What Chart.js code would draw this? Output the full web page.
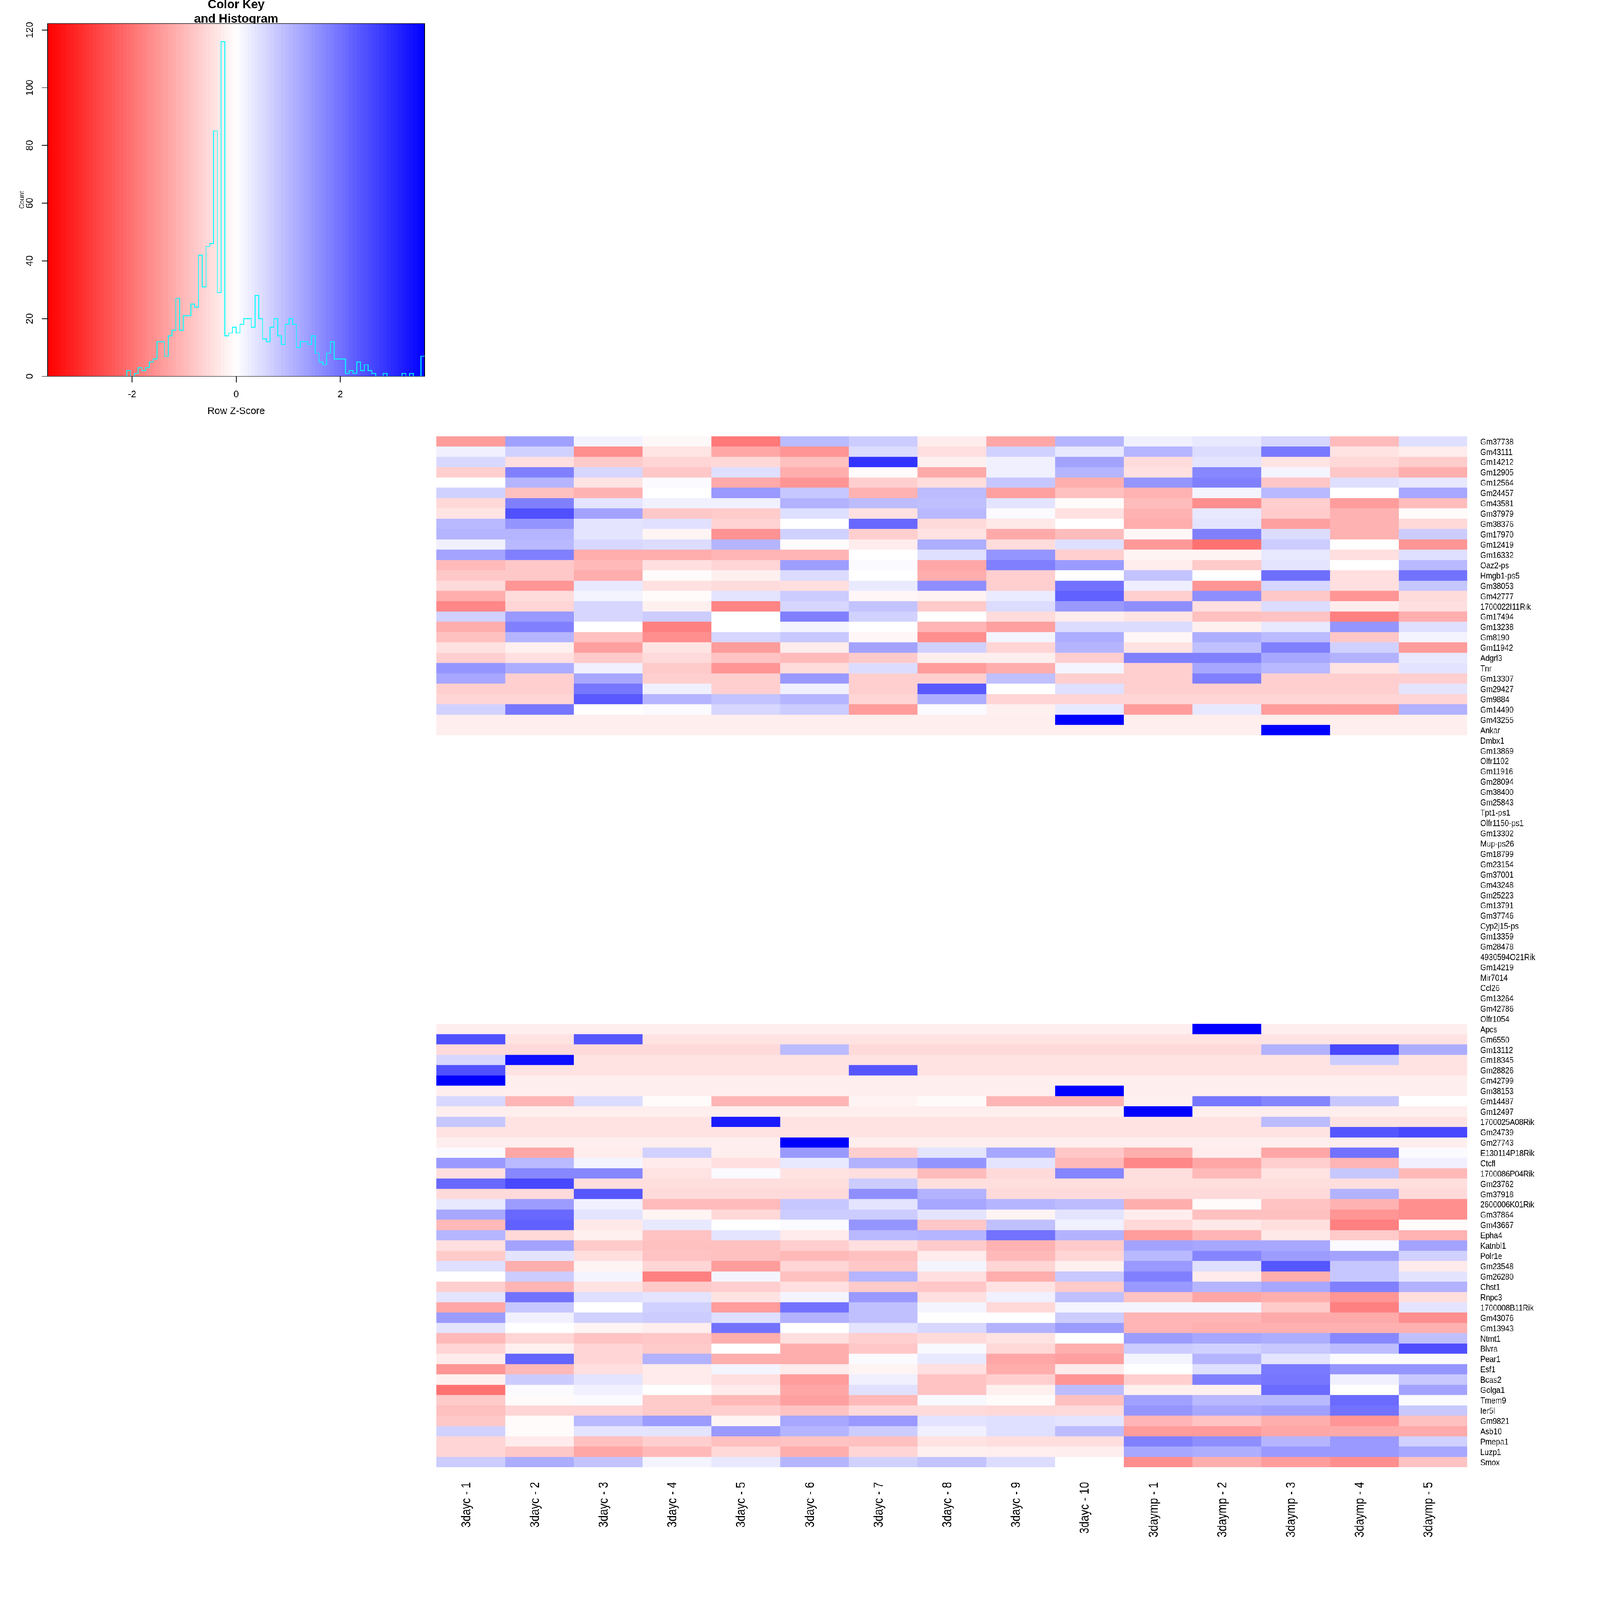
<!DOCTYPE html>
<html>
<head>
<meta charset="utf-8">
<title>Color Key and Histogram</title>
<script src="https://cdn.jsdelivr.net/npm/chart.js@4/dist/chart.umd.js"></script>
<style>
html,body{margin:0;padding:0;background:#fff;overflow:hidden}
#page{position:absolute;left:0;top:0;width:4800px;height:4800px;overflow:hidden;transform-origin:0 0}
canvas{position:absolute;left:0;top:0}
</style>
</head>
<body>
<div id="page">
<canvas id="heat" width="4800" height="4800"></canvas>
<canvas id="key" width="1320" height="1260"></canvas>
</div>
<script>
const columns = ['3dayc - 1','3dayc - 2','3dayc - 3','3dayc - 4','3dayc - 5','3dayc - 6','3dayc - 7','3dayc - 8','3dayc - 9','3dayc - 10','3daymp - 1','3daymp - 2','3daymp - 3','3daymp - 4','3daymp - 5'];

const genes = ['Gm37738','Gm43111','Gm14212','Gm12905','Gm12564','Gm24457','Gm43581','Gm37979','Gm38376','Gm17970','Gm12419','Gm16332','Oaz2-ps','Hmgb1-ps5','Gm38053','Gm42777','1700022I11Rik','Gm17494','Gm13238','Gm8190','Gm11942','Adgrl3','Tnr','Gm13307','Gm29427','Gm9884','Gm14490','Gm43255','Ankar',
	'Dmbx1','Gm13869','Olfr1102','Gm11916','Gm28094','Gm38400','Gm25843','Tpt1-ps1','Olfr1150-ps1','Gm13302','Mup-ps26','Gm18799','Gm23154','Gm37001','Gm43248','Gm25223','Gm13791','Gm37746','Cyp2j15-ps','Gm13359','Gm28478','4930594O21Rik','Gm14219','Mir7014','Ccl26','Gm13264','Gm42786','Olfr1054',
	'Apcs','Gm6550','Gm13112','Gm18345','Gm28826','Gm42799','Gm38153','Gm14487','Gm12497','1700025A08Rik','Gm24739','Gm27743','E130114P18Rik','Ctcfl','1700086P04Rik','Gm23762','Gm37918','2600006K01Rik','Gm37864','Gm43667','Epha4','Katnbl1','Polr1e','Gm23548','Gm26280','Chst1','Rnpc3','1700008B11Rik','Gm43076','Gm13943','Ntmt1','Blvra','Pear1','Esf1','Bcas2','Golga1','Tmem9','Ier5l','Gm9821','Asb10','Pmepa1','Luzp1','Smox'];

// row z-scores, Gm37738 down to Ankar
const zTop = [
	[-1.4,1.35,.17,-.1,-1.9,.97,.72,-.27,-1.25,1.05,.22,.33,.58,-.97,.45],
	[.22,.66,-1.6,-.38,-1.25,-1.5,.5,-.45,.66,.33,1.05,.5,1.9,-.4,-.25],
	[.55,-.45,-.75,-.6,-.55,-.9,2.9,-.22,.22,1.3,-.5,.38,-.38,-.55,-.72],
	[-.7,1.8,.58,-.8,.45,-1.15,-.06,-1.2,.22,1.05,-.42,1.7,.15,-.8,-1.15],
	[0,1.05,-.38,.07,-1.2,-1.5,-.68,-.48,.8,-1.15,1.5,1.8,-.8,.45,.33],
	[.66,-.9,-1.1,0,1.45,.8,-1.1,.95,-1.35,-.9,-1.1,.15,1,0,1.25],
	[-.55,1.8,.38,.22,.22,1.1,.95,.9,.38,-.05,-.95,-1.6,-.7,-1.4,-.95],
	[-.38,2.48,1.3,-.78,-.74,.45,-.42,1,.07,-.42,-1.1,.33,-.74,-1.1,-.06],
	[1,1.5,.38,.42,-.63,0,2.15,-.53,-.33,0,-1.17,.38,-1.35,-1.1,-.55],
	[1.05,1.05,.38,-.15,-1.55,.66,-.68,-.4,-1.2,-.95,-.12,1.8,.5,-1.1,.72],
	[.22,1,.55,.5,1.05,-.05,-.27,1.15,-.5,.45,-1.45,-2,.72,0,-1.5],
	[1.3,1.8,-1.17,-1.17,-1.05,-1.05,0,.45,1.5,-.68,-.15,-.15,.33,-.45,.45],
	[-1,-.78,-1,-.45,-.6,1.38,.07,-1.25,1.8,1.42,-.27,-.75,.38,0,1],
	[-.78,-.78,-1.17,-.06,-.22,.5,0,-1.17,-.7,0,.85,0,2.05,-.45,2],
	[-.53,-1.5,.33,-.42,-.5,-.45,.3,1.6,-.7,2,.24,-1.5,.58,-.45,.8],
	[-1.17,-.5,.15,-.06,.38,.72,-.12,-.18,.28,2.25,-.7,1.6,-.78,-1.5,-.5],
	[-1.7,-.6,.58,-.22,-1.75,.58,.85,-.75,.5,1.45,1.6,-.45,.5,-.25,-.45],
	[.66,1.45,.58,.72,0,1.8,.66,0,-.5,-.25,-.38,-.9,-.85,-1.8,-1.15],
	[-1.15,1.8,0,-1.8,0,.15,0,-1.05,-1.35,.5,.5,-.22,.33,1.5,.45],
	[-.9,1.05,-.9,-1.6,.58,.78,-.12,-1.6,.15,1.17,-.12,1.15,.97,-.8,.15],
	[-.42,-.22,-1.35,-.38,-1.4,-.27,1.3,.66,-.6,1.05,-.4,.9,1.8,.66,-1.4],
	[-.68,-.45,-.75,-.53,-.85,-.97,-.75,-.24,-.24,-.7,1.8,1.8,1.25,1.1,.33],
	[1.5,1.17,.22,-.75,-1.5,-.5,.5,-1.4,-1.15,.15,-.7,1.25,1,-.4,.4],
	[1.25,-.68,1.25,-.68,-.68,1.45,-.68,-.68,.9,-.68,-.68,1.8,-.68,-.68,-.68],
	[-.68,-.68,1.95,.22,-.68,.22,-.68,2.35,0,.45,-.68,-.68,-.68,-.68,.38],
	[-.6,-.6,2.35,1.05,.85,1.05,-.6,1.15,-.6,-.6,-.6,-.6,-.6,-.6,-.6],
	[.66,1.95,0,.07,.58,.72,-1.4,.07,-.22,.33,-1.4,.33,-1.4,-1.4,1.1],
	[-.24,-.24,-.24,-.24,-.24,-.24,-.24,-.24,-.24,3.62,-.24,-.24,-.24,-.24,-.24],
	[-.24,-.24,-.24,-.24,-.24,-.24,-.24,-.24,-.24,-.24,-.24,-.24,3.62,-.24,-.24]
];

// Dmbx1 to Olfr1054 have no values at all (zero variance, NA z-score)
const emptyRows = 28;

// Apcs down to Smox
const zBottom = [
	[-.24,-.24,-.24,-.24,-.24,-.24,-.24,-.24,-.24,-.24,-.24,3.62,-.24,-.24,-.24],
	[2.48,-.4,2.4,-.4,-.4,-.4,-.4,-.4,-.4,-.4,-.4,-.4,-.4,-.4,-.4],
	[-.53,-.53,-.53,-.53,-.53,.97,-.53,-.53,-.53,-.53,-.53,-.53,1.1,2.6,1.17],
	[.58,3.4,-.4,-.4,-.4,-.4,-.4,-.4,-.4,-.4,-.4,-.4,-.4,.72,-.4],
	[2.48,-.4,-.4,-.4,-.4,-.4,2.4,-.4,-.4,-.4,-.4,-.4,-.4,-.4,-.4],
	[3.62,-.24,-.24,-.24,-.24,-.24,-.24,-.24,-.24,-.24,-.24,-.24,-.24,-.24,-.24],
	[-.24,-.24,-.24,-.24,-.24,-.24,-.24,-.24,-.24,3.62,-.24,-.24,-.24,-.24,-.24],
	[.55,-1.05,.5,-.06,-1.05,-1.05,-.17,-.07,-1.05,-1.05,-.22,1.95,1.73,.78,0],
	[-.24,-.24,-.24,-.24,-.24,-.24,-.24,-.24,-.24,-.24,3.62,-.24,-.24,-.24,-.24],
	[.8,-.4,-.4,-.4,3.25,-.4,-.4,-.4,-.4,-.4,-.4,-.4,.97,-.4,-.4],
	[-.4,-.4,-.4,-.4,-.4,-.4,-.4,-.4,-.4,-.4,-.4,-.4,-.4,2.4,2.6],
	[-.24,-.24,-.24,-.24,-.24,3.62,-.24,-.24,-.24,-.24,-.24,-.24,-.24,-.24,-.24],
	[.07,-1.25,-.27,.66,-.24,1.45,-.7,.38,1.25,-.8,-1.15,-.27,-1.25,2,.07],
	[1.45,1,.15,-.28,-.45,.33,1.1,1.5,.38,-1,-1.7,-1.25,-.68,-1.05,.22],
	[-.45,1.7,1.7,-.4,.07,-.4,-.47,-.97,-.53,1.73,-.47,-1,-.4,.8,-1],
	[2.15,2.6,-.47,-.47,-.47,-.47,.72,-.47,-.47,-.47,-.47,-.47,-.47,-.47,-.47],
	[-.53,-.53,2.4,-.53,-.53,-.53,1.6,1.1,-.53,-.53,-.53,-.53,-.53,1.1,-.53],
	[.33,1.4,.22,-.97,-.97,.8,.38,1.25,1.05,.95,-1.15,-.06,-.85,-1.1,-1.6],
	[1.25,2.15,.38,-.15,-.55,.72,.72,.38,-.15,.38,-.25,-.9,-.9,-1.5,-1.6],
	[-1,2.25,-.33,.33,0,.07,1.5,-.8,.9,.22,-.55,-.33,-.47,-1.8,-.06],
	[1.05,-.55,-.22,-.85,.38,-.28,1,1.05,2,1.1,-1.4,-1.05,-.33,-.75,-1.1],
	[-.45,1.3,-.75,-.9,-.9,-.7,-.45,-.75,-1.1,-.75,1.3,1.25,1.25,.07,1.3],
	[-.75,.38,-.47,-.85,-.9,-1,-.9,-.28,-1,-.6,1,1.73,1.4,1.3,.66],
	[.45,-1.15,-.15,-.6,-1.4,-.6,-.8,.15,-.6,-.22,1.45,.45,2.4,.8,-.28],
	[0,.72,.15,-1.8,.15,-.9,1.05,-.45,-1.17,.78,1.8,-.28,-1.15,.8,.38],
	[-.7,-1.05,-.4,-.75,-.68,-.45,-.75,-.8,-.4,-.75,1.45,1.05,1.25,1.8,1.1],
	[.38,2,.45,.38,-.4,.15,1.45,-.45,.22,.9,-.85,-1.25,-1.15,-1.5,-.47],
	[-1.25,.8,0,.66,-1.4,2,.9,.15,-.55,.15,.15,.15,-.75,-1.8,.38],
	[1.4,.22,.66,.72,.45,1.1,.9,0,0,.72,-1.05,-1.05,-1.2,-1.2,-1.6],
	[.38,0,-.15,-.24,2,0,.38,.55,1.1,1.4,-1.05,-1.12,-1.12,-1.12,-1.12],
	[-1,-.6,-.85,-.8,-1.15,-.45,-.68,-.53,-.4,0,1.4,1.25,1.17,1.7,.9],
	[-.6,-.22,-.6,-.75,0,-1.15,-.8,.1,-.55,-1.15,.72,.66,.78,.95,2.5],
	[-.28,2.2,-.6,1.1,-1.15,-1.15,.07,.33,-1.25,-1.35,.15,1.05,.38,.07,.07],
	[-1.5,-1,-.45,-.28,.15,-.28,-.15,-.45,-1.17,-.28,0,.45,1.9,1.5,1.5],
	[-.22,.72,.38,-.28,-.45,-1.4,.22,-.85,-.68,-1.5,-.68,1.8,1.95,.22,.78],
	[-2,.07,.22,0,-.28,-1.25,.42,-.85,-.22,.95,-.22,-.22,2.1,0,1.3],
	[-.75,-.06,.07,-.75,-1,-1.35,-1,.1,-.05,-.9,1.35,1,1,2.1,.07],
	[-.9,-.6,-.6,-.75,-.7,-.85,-.53,-.53,-.55,-.53,1.5,1.25,1.35,2,.78],
	[-.78,-.06,1,1.4,-.15,1.25,1.45,.4,.45,.38,-1.05,-.85,-1.15,-1.5,-.9],
	[.66,-.06,.38,.38,1.45,1.05,.72,.22,.45,.95,-1.4,-1.42,-1.25,-1.2,-1.2],
	[-.6,-.28,-.9,-.68,-.9,-.85,-.9,-.4,-.47,-.47,1.8,1.6,1.05,1.45,.66],
	[-.6,-.78,-1.25,-1,-.55,-1.15,-.6,-.22,-.24,-.24,1.25,1.15,1.45,1.45,1.25],
	[.72,1.17,.85,.15,.33,1.05,.66,.85,.5,0,-1.6,-1.15,-1.4,-1.6,-.85]
];

// histogram counts per bin, 100 bins over the key range
const histCounts = [0,0,0,0,0,0,0,0,0,0,0,0,0,0,0,0,0,0,0,0,0,2,0,1,3,2,3,5,6,12,12,7,14,16,27,16,21,21,25,24,42,31,45,46,85,29,116,14,15,17,15,18,20,20,17,28,20,13,12,17,20,14,11,18,20,18,10,12,12,11,14,8,5,4,8,12,6,6,6,1,2,1,5,2,4,2,1,0,0,1,0,0,0,0,1,0,1,0,0,7];

const xTicks = [-2,0,2];
const yTicks = [0,20,40,60,80,100,120];
const zMax = 3.62;
const countMax = 122.2;

const fontName = '"Liberation Sans", Arial, Helvetica, sans-serif';

// the window can come out smaller than the 4800 the layout is made for, fit the page into it
var fit = Math.min(1,window.innerWidth/4800);
document.getElementById('page').style.transform = 'scale('+fit+')';

// heatmap labels are squeezed along the text in the reference, no narrow font here so use fillText's maxWidth
var heatCanvas = document.getElementById('heat');
var heatCtx = heatCanvas.getContext('2d');
var rawFill = heatCtx.fillText.bind(heatCtx);
heatCtx.fillText = function(t,x,y){ rawFill(t,x,y,heatCtx.measureText(t).width*0.875); };

// red - white - blue, same ramp as the key
function zColor(z){
	var t = Math.min(1,Math.abs(z)/zMax);
	var v = Math.round(255*(1-t));
	return z<0 ? 'rgb(255,'+v+','+v+')' : 'rgb('+v+','+v+',255)';
}

var zScores = zTop.concat(new Array(emptyRows).fill(null),zBottom);

// one floating bar dataset per column, each row is a category
var heatSets = [];
columns.forEach(function(name,col){
	heatSets.push({
		label: name,
		data: zScores.map(function(r){ return r ? [col,col+1] : null; }),
		backgroundColor: zScores.map(function(r){ return r ? zColor(r[col]) : 'rgba(0,0,0,0)'; }),
		borderWidth: 0,
		barPercentage: 1,
		categoryPercentage: 1,
		grouped: false
	});
});

new Chart(heatCanvas,{
	type: 'bar',
	data: {labels: genes, datasets: heatSets},
	options: {
		indexAxis: 'y',
		responsive: false,
		animation: false,
		devicePixelRatio: 1,
		layout: {padding: {left:1309,top:1309,right:0,bottom:0}},
		plugins: {legend:{display:false},tooltip:{enabled:false},title:{display:false}},
		scales: {
			x: {
				type: 'linear',
				position: 'bottom',
				min: 0,
				max: columns.length,
				border: {display:false},
				grid: {display:false,drawTicks:false},
				afterBuildTicks: function(s){ s.ticks = columns.map(function(n,k){ return {value:k+0.5}; }); },
				afterFit: function(s){ s.height = 398; },
				ticks: {
					autoSkip: false,
					minRotation: 90,
					maxRotation: 90,
					padding: 44,
					labelOffset: -12,
					color: '#000',
					font: {family:fontName,size:38},
					callback: function(v){ return columns[Math.floor(v)]; }
				}
			},
			y: {
				type: 'category',
				position: 'right',
				offset: true,
				border: {display:false},
				grid: {display:false,drawTicks:false},
				afterFit: function(s){ s.width = 398; },
				ticks: {
					autoSkip: false,
					padding: 39,
					labelOffset: 2,
					color: '#000',
					font: {family:fontName,size:26}
				}
			}
		}
	}
});

// histogram steps start at each bin's left edge, last point closes the final bin
var binW = 2*zMax/histCounts.length;
var histLine = histCounts.map(function(n,k){ return {x:-zMax+k*binW,y:n}; });
histLine.push({x:zMax,y:histCounts[histCounts.length-1]});
var keyBars = histCounts.map(function(n,k){ return {x:-zMax+(k+0.5)*binW,y:[0,countMax]}; });

var plotBox = {
	id: 'plotBox',
	afterDatasetDraw: function(chart,args){
		if(args.meta.type!=='bar') return;
		var a = chart.chartArea, ctx = chart.ctx;
		ctx.save();
		ctx.strokeStyle = '#000';
		ctx.lineWidth = 2;
		ctx.strokeRect(a.left,a.top,a.right-a.left,a.bottom-a.top);
		ctx.restore();
	}
};

new Chart(document.getElementById('key'),{
	type: 'bar',
	data: {datasets: [
		{type:'line',data:histLine,borderColor:'#00FFFF',borderWidth:2.5,pointRadius:0,stepped:true,fill:false,order:0},
		{type:'bar',data:keyBars,backgroundColor:keyBars.map(function(b){ return zColor(b.x); }),borderWidth:0,barPercentage:1,categoryPercentage:1,order:1}
	]},
	plugins: [plotBox],
	options: {
		responsive: false,
		animation: false,
		devicePixelRatio: 1,
		layout: {padding: {left:0,top:0,right:46,bottom:0}},
		plugins: {
			legend: {display:false},
			tooltip: {enabled:false},
			title: {
				display: true,
				fullSize: false,
				text: ['Color Key','and Histogram'],
				color: '#000',
				font: {family:fontName,size:36,weight:'bold',lineHeight:1.19},
				padding: {top:-6,bottom:-9}
			}
		},
		scales: {
			x: {
				type: 'linear',
				offset: false,
				min: -zMax,
				max: zMax,
				border: {display:true,color:'#000',width:2},
				grid: {offset:false,drawOnChartArea:false,drawTicks:true,tickLength:18,color:'#000',lineWidth:2},
				afterBuildTicks: function(s){ s.ticks = xTicks.map(function(v){ return {value:v}; }); },
				afterFit: function(s){ s.height = 131; },
				ticks: {autoSkip:false,maxRotation:0,padding:20,color:'#000',font:{family:fontName,size:29}},
				title: {display:true,text:'Row Z-Score',color:'#000',font:{family:fontName,size:29.5},padding:{top:0,bottom:8}}
			},
			y: {
				type: 'linear',
				min: 0,
				max: countMax,
				border: {display:true,color:'#000',width:2},
				grid: {drawOnChartArea:false,drawTicks:true,tickLength:18,color:'#000',lineWidth:2},
				afterBuildTicks: function(s){ s.ticks = yTicks.map(function(v){ return {value:v}; }); },
				afterFit: function(s){ s.width = 143; },
				ticks: {autoSkip:false,minRotation:90,maxRotation:90,crossAlign:'center',padding:11,color:'#000',font:{family:fontName,size:29}},
				title: {display:true,text:'Count',color:'#000',font:{family:fontName,size:20},padding:{top:54,bottom:0}}
			}
		}
	}
});
</script>
</body>
</html>
